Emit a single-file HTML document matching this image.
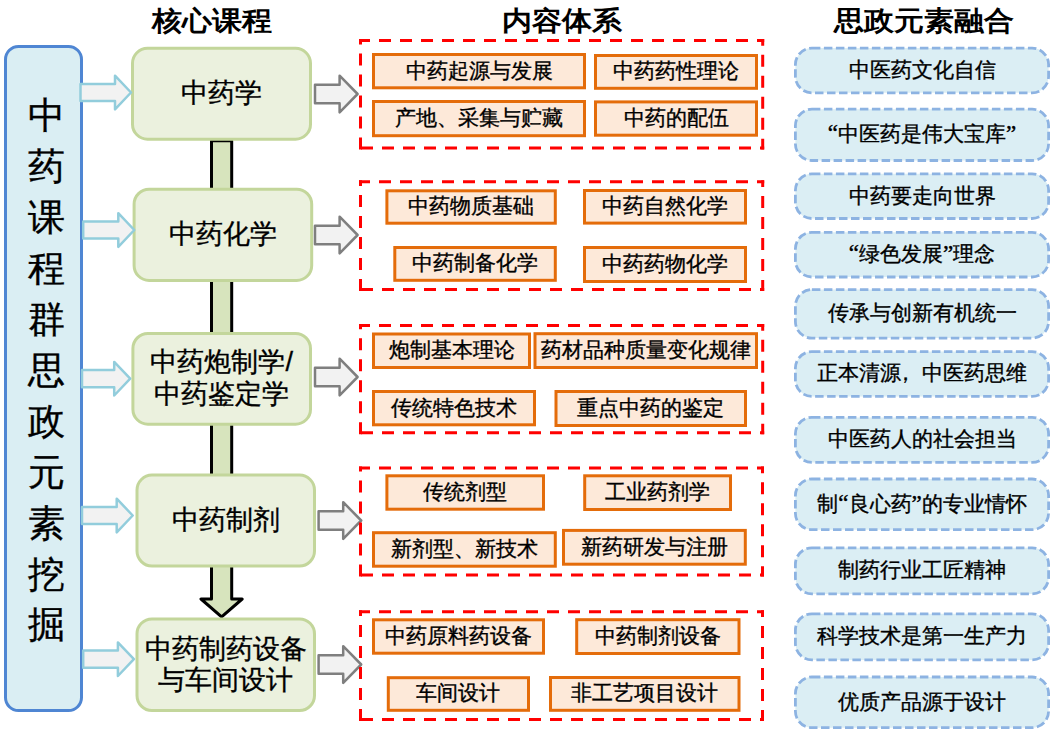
<!DOCTYPE html>
<html><head><meta charset="utf-8">
<style>
html,body{margin:0;padding:0;background:#fff;}
body{width:1056px;height:734px;position:relative;overflow:hidden;font-family:"Liberation Sans", sans-serif;color:#000;}
svg{position:absolute;left:0;top:0;}
.t{position:absolute;-webkit-text-stroke:0.35px #000;display:flex;align-items:center;justify-content:center;text-align:center;white-space:nowrap;}
.h{-webkit-text-stroke:0;transform:scaleY(0.9);}
.q{font-family:"Liberation Serif",serif;font-size:23px;font-weight:normal;-webkit-text-stroke:0.4px #000;}
</style></head><body>
<svg width="1056" height="734" viewBox="0 0 1056 734">
<rect x="5.5" y="46.5" width="76" height="664" rx="13" ry="13" fill="#DAEEF3" stroke="#4F86D3" stroke-width="3"/>
<path d="M211.5,140.7 L231.7,140.7 L231.7,599 L242.2,599 L221.6,616.8 L201,599 L211.5,599 Z" fill="#D7E4BD" stroke="#000" stroke-width="3" stroke-linejoin="round"/>
<rect x="132.5" y="48.3" width="178.00" height="90.90" rx="15" ry="15" fill="#EBF1DE" stroke="#C3D69B" stroke-width="3"/>
<rect x="134.1" y="189.2" width="177.60" height="91.20" rx="15" ry="15" fill="#EBF1DE" stroke="#C3D69B" stroke-width="3"/>
<rect x="132.9" y="333.5" width="177.60" height="90.70" rx="15" ry="15" fill="#EBF1DE" stroke="#C3D69B" stroke-width="3"/>
<rect x="137.0" y="475.1" width="177.50" height="90.90" rx="15" ry="15" fill="#EBF1DE" stroke="#C3D69B" stroke-width="3"/>
<rect x="137.0" y="618.9" width="177.50" height="91.60" rx="15" ry="15" fill="#EBF1DE" stroke="#C3D69B" stroke-width="3"/>
<path d="M80.5,83.9 L115,83.9 L115,75.7 L131,92.5 L115,109.3 L115,101.1 L80.5,101.1 Z" fill="#F2F2F2" stroke="#92CDDC" stroke-width="2.5" stroke-linejoin="round"/>
<path d="M83.2,221.4 L118.30000000000001,221.4 L118.30000000000001,213.2 L134.3,230 L118.30000000000001,246.8 L118.30000000000001,238.6 L83.2,238.6 Z" fill="#F2F2F2" stroke="#92CDDC" stroke-width="2.5" stroke-linejoin="round"/>
<path d="M82,370.09999999999997 L114.19999999999999,370.09999999999997 L114.19999999999999,361.9 L130.2,378.7 L114.19999999999999,395.5 L114.19999999999999,387.3 L82,387.3 Z" fill="#F2F2F2" stroke="#92CDDC" stroke-width="2.5" stroke-linejoin="round"/>
<path d="M82,506.9 L116.69999999999999,506.9 L116.69999999999999,498.7 L132.7,515.5 L116.69999999999999,532.3 L116.69999999999999,524.1 L82,524.1 Z" fill="#F2F2F2" stroke="#92CDDC" stroke-width="2.5" stroke-linejoin="round"/>
<path d="M83.2,650.6 L117.9,650.6 L117.9,642.4000000000001 L133.9,659.2 L117.9,676.0 L117.9,667.8000000000001 L83.2,667.8000000000001 Z" fill="#F2F2F2" stroke="#92CDDC" stroke-width="2.5" stroke-linejoin="round"/>
<path d="M315,84.7 L339.6,84.7 L339.6,75.7 L357.6,94 L339.6,112.3 L339.6,103.3 L315,103.3 Z" fill="#F2F2F2" stroke="#7F7F7F" stroke-width="2.5" stroke-linejoin="round"/>
<path d="M315,225.7 L339.6,225.7 L339.6,216.7 L357.6,235 L339.6,253.3 L339.6,244.3 L315,244.3 Z" fill="#F2F2F2" stroke="#7F7F7F" stroke-width="2.5" stroke-linejoin="round"/>
<path d="M315,367.7 L339.6,367.7 L339.6,358.7 L357.6,377 L339.6,395.3 L339.6,386.3 L315,386.3 Z" fill="#F2F2F2" stroke="#7F7F7F" stroke-width="2.5" stroke-linejoin="round"/>
<path d="M318.6,511.2 L343.2,511.2 L343.2,502.2 L361.2,520.5 L343.2,538.8 L343.2,529.8 L318.6,529.8 Z" fill="#F2F2F2" stroke="#7F7F7F" stroke-width="2.5" stroke-linejoin="round"/>
<path d="M318.6,655.2 L343.2,655.2 L343.2,646.2 L361.2,664.5 L343.2,682.8 L343.2,673.8 L318.6,673.8 Z" fill="#F2F2F2" stroke="#7F7F7F" stroke-width="2.5" stroke-linejoin="round"/>
<path d="M359,40.5 L764.2,40.5" fill="none" stroke="#FF0000" stroke-width="3" stroke-dasharray="12 9" stroke-linecap="butt" stroke-dashoffset="1"/>
<path d="M762.7,39 L762.7,149.6" fill="none" stroke="#FF0000" stroke-width="3" stroke-dasharray="12 9" stroke-linecap="butt" stroke-dashoffset="5.2"/>
<path d="M359,148.1 L764.2,148.1" fill="none" stroke="#FF0000" stroke-width="3" stroke-dasharray="12 9" stroke-linecap="butt" stroke-dashoffset="-2"/>
<path d="M360.5,149.6 L360.5,39" fill="none" stroke="#FF0000" stroke-width="3" stroke-dasharray="12 9" stroke-linecap="butt"/>
<path d="M359,181.8 L764.2,181.8" fill="none" stroke="#FF0000" stroke-width="3" stroke-dasharray="12 9" stroke-linecap="butt" stroke-dashoffset="1"/>
<path d="M762.7,180.3 L762.7,291" fill="none" stroke="#FF0000" stroke-width="3" stroke-dasharray="12 9" stroke-linecap="butt" stroke-dashoffset="5.2"/>
<path d="M359,289.5 L764.2,289.5" fill="none" stroke="#FF0000" stroke-width="3" stroke-dasharray="12 9" stroke-linecap="butt" stroke-dashoffset="-2"/>
<path d="M360.5,291 L360.5,180.3" fill="none" stroke="#FF0000" stroke-width="3" stroke-dasharray="12 9" stroke-linecap="butt"/>
<path d="M359,325.5 L764.2,325.5" fill="none" stroke="#FF0000" stroke-width="3" stroke-dasharray="12 9" stroke-linecap="butt" stroke-dashoffset="1"/>
<path d="M762.7,324 L762.7,434.3" fill="none" stroke="#FF0000" stroke-width="3" stroke-dasharray="12 9" stroke-linecap="butt" stroke-dashoffset="5.2"/>
<path d="M359,432.8 L764.2,432.8" fill="none" stroke="#FF0000" stroke-width="3" stroke-dasharray="12 9" stroke-linecap="butt" stroke-dashoffset="-2"/>
<path d="M360.5,434.3 L360.5,324" fill="none" stroke="#FF0000" stroke-width="3" stroke-dasharray="12 9" stroke-linecap="butt"/>
<path d="M359,468.0 L764,468.0" fill="none" stroke="#FF0000" stroke-width="3" stroke-dasharray="12 9" stroke-linecap="butt" stroke-dashoffset="1"/>
<path d="M762.5,466.5 L762.5,576.5" fill="none" stroke="#FF0000" stroke-width="3" stroke-dasharray="12 9" stroke-linecap="butt" stroke-dashoffset="5.2"/>
<path d="M359,575.0 L764,575.0" fill="none" stroke="#FF0000" stroke-width="3" stroke-dasharray="12 9" stroke-linecap="butt" stroke-dashoffset="-2"/>
<path d="M360.5,576.5 L360.5,466.5" fill="none" stroke="#FF0000" stroke-width="3" stroke-dasharray="12 9" stroke-linecap="butt"/>
<path d="M359,611.8 L764,611.8" fill="none" stroke="#FF0000" stroke-width="3" stroke-dasharray="12 9" stroke-linecap="butt" stroke-dashoffset="1"/>
<path d="M762.5,610.3 L762.5,721" fill="none" stroke="#FF0000" stroke-width="3" stroke-dasharray="12 9" stroke-linecap="butt" stroke-dashoffset="5.2"/>
<path d="M359,719.5 L764,719.5" fill="none" stroke="#FF0000" stroke-width="3" stroke-dasharray="12 9" stroke-linecap="butt" stroke-dashoffset="-2"/>
<path d="M360.5,721 L360.5,610.3" fill="none" stroke="#FF0000" stroke-width="3" stroke-dasharray="12 9" stroke-linecap="butt"/>
<rect x="373.5" y="54.5" width="211.00" height="33.30" fill="#FDE9D9" stroke="#E46C0A" stroke-width="3"/>
<rect x="595.5" y="55.5" width="161.00" height="32.80" fill="#FDE9D9" stroke="#E46C0A" stroke-width="3"/>
<rect x="373.5" y="101.5" width="211.00" height="34.20" fill="#FDE9D9" stroke="#E46C0A" stroke-width="3"/>
<rect x="595.5" y="101.9" width="161.00" height="33.30" fill="#FDE9D9" stroke="#E46C0A" stroke-width="3"/>
<rect x="386.9" y="190.8" width="168.40" height="32.40" fill="#FDE9D9" stroke="#E46C0A" stroke-width="3"/>
<rect x="584.5" y="190.5" width="161.00" height="32.60" fill="#FDE9D9" stroke="#E46C0A" stroke-width="3"/>
<rect x="394.8" y="247.5" width="160.50" height="32.80" fill="#FDE9D9" stroke="#E46C0A" stroke-width="3"/>
<rect x="584.5" y="247.5" width="161.00" height="34.00" fill="#FDE9D9" stroke="#E46C0A" stroke-width="3"/>
<rect x="373.5" y="334.0" width="156.00" height="33.50" fill="#FDE9D9" stroke="#E46C0A" stroke-width="3"/>
<rect x="535.0" y="333.7" width="221.50" height="33.80" fill="#FDE9D9" stroke="#E46C0A" stroke-width="3"/>
<rect x="373.5" y="391.5" width="161.00" height="33.30" fill="#FDE9D9" stroke="#E46C0A" stroke-width="3"/>
<rect x="556.0" y="391.5" width="189.50" height="34.00" fill="#FDE9D9" stroke="#E46C0A" stroke-width="3"/>
<rect x="386.9" y="475.8" width="156.60" height="33.40" fill="#FDE9D9" stroke="#E46C0A" stroke-width="3"/>
<rect x="584.7" y="475.8" width="145.80" height="33.70" fill="#FDE9D9" stroke="#E46C0A" stroke-width="3"/>
<rect x="373.5" y="532.7" width="181.80" height="33.50" fill="#FDE9D9" stroke="#E46C0A" stroke-width="3"/>
<rect x="563.5" y="530.4" width="181.80" height="33.80" fill="#FDE9D9" stroke="#E46C0A" stroke-width="3"/>
<rect x="373.5" y="619.8" width="170.00" height="33.40" fill="#FDE9D9" stroke="#E46C0A" stroke-width="3"/>
<rect x="576.7" y="619.7" width="162.30" height="33.80" fill="#FDE9D9" stroke="#E46C0A" stroke-width="3"/>
<rect x="388.3" y="677.7" width="140.20" height="32.60" fill="#FDE9D9" stroke="#E46C0A" stroke-width="3"/>
<rect x="550.5" y="677.5" width="188.50" height="32.80" fill="#FDE9D9" stroke="#E46C0A" stroke-width="3"/>
<rect x="795.4" y="48.1" width="253.20" height="44.70" rx="16.5" ry="16.5" fill="#DBEEF4" stroke="#8DB3E2" stroke-width="2.8" stroke-dasharray="8.5 3.5"/>
<rect x="795.4" y="109.2" width="253.20" height="51.30" rx="16.5" ry="16.5" fill="#DBEEF4" stroke="#8DB3E2" stroke-width="2.8" stroke-dasharray="8.5 3.5"/>
<rect x="795.4" y="173.8" width="253.20" height="44.70" rx="16.5" ry="16.5" fill="#DBEEF4" stroke="#8DB3E2" stroke-width="2.8" stroke-dasharray="8.5 3.5"/>
<rect x="795.4" y="232.3" width="253.20" height="44.70" rx="16.5" ry="16.5" fill="#DBEEF4" stroke="#8DB3E2" stroke-width="2.8" stroke-dasharray="8.5 3.5"/>
<rect x="795.4" y="289.59999999999997" width="253.20" height="48.50" rx="16.5" ry="16.5" fill="#DBEEF4" stroke="#8DB3E2" stroke-width="2.8" stroke-dasharray="8.5 3.5"/>
<rect x="795.4" y="351.59999999999997" width="253.20" height="44.80" rx="16.5" ry="16.5" fill="#DBEEF4" stroke="#8DB3E2" stroke-width="2.8" stroke-dasharray="8.5 3.5"/>
<rect x="795.4" y="417.4" width="253.20" height="45.00" rx="16.5" ry="16.5" fill="#DBEEF4" stroke="#8DB3E2" stroke-width="2.8" stroke-dasharray="8.5 3.5"/>
<rect x="795.4" y="479.0" width="253.20" height="50.70" rx="16.5" ry="16.5" fill="#DBEEF4" stroke="#8DB3E2" stroke-width="2.8" stroke-dasharray="8.5 3.5"/>
<rect x="795.4" y="547.8" width="253.20" height="46.10" rx="16.5" ry="16.5" fill="#DBEEF4" stroke="#8DB3E2" stroke-width="2.8" stroke-dasharray="8.5 3.5"/>
<rect x="795.4" y="613.8" width="253.20" height="46.10" rx="16.5" ry="16.5" fill="#DBEEF4" stroke="#8DB3E2" stroke-width="2.8" stroke-dasharray="8.5 3.5"/>
<rect x="795.4" y="677.0" width="253.20" height="50.70" rx="16.5" ry="16.5" fill="#DBEEF4" stroke="#8DB3E2" stroke-width="2.8" stroke-dasharray="8.5 3.5"/>
</svg>
<div class="t h" style="left:142.3px;top:0.0px;width:138.8px;height:42.0px;font-size:30px;font-weight:bold;line-height:1;">核心课程</div>
<div class="t h" style="left:493.7px;top:0.0px;width:137.3px;height:42.0px;font-size:30px;font-weight:bold;line-height:1;">内容体系</div>
<div class="t h" style="left:825.2px;top:0.0px;width:196.8px;height:42.0px;font-size:30px;font-weight:bold;line-height:1;">思政元素融合</div>
<div class="t" style="left:21.5px;top:90.9px;width:50.0px;height:50.0px;font-size:37px;font-weight:normal;line-height:1;">中</div>
<div class="t" style="left:21.5px;top:141.8px;width:50.0px;height:50.0px;font-size:37px;font-weight:normal;line-height:1;">药</div>
<div class="t" style="left:21.5px;top:192.7px;width:50.0px;height:50.0px;font-size:37px;font-weight:normal;line-height:1;">课</div>
<div class="t" style="left:21.5px;top:243.6px;width:50.0px;height:50.0px;font-size:37px;font-weight:normal;line-height:1;">程</div>
<div class="t" style="left:21.5px;top:294.5px;width:50.0px;height:50.0px;font-size:37px;font-weight:normal;line-height:1;">群</div>
<div class="t" style="left:21.5px;top:345.4px;width:50.0px;height:50.0px;font-size:37px;font-weight:normal;line-height:1;">思</div>
<div class="t" style="left:21.5px;top:396.3px;width:50.0px;height:50.0px;font-size:37px;font-weight:normal;line-height:1;">政</div>
<div class="t" style="left:21.5px;top:447.2px;width:50.0px;height:50.0px;font-size:37px;font-weight:normal;line-height:1;">元</div>
<div class="t" style="left:21.5px;top:498.1px;width:50.0px;height:50.0px;font-size:37px;font-weight:normal;line-height:1;">素</div>
<div class="t" style="left:21.5px;top:549.0px;width:50.0px;height:50.0px;font-size:37px;font-weight:normal;line-height:1;">挖</div>
<div class="t" style="left:21.5px;top:599.9px;width:50.0px;height:50.0px;font-size:37px;font-weight:normal;line-height:1;">掘</div>
<div class="t" style="left:131.0px;top:46.8px;width:181.0px;height:93.9px;font-size:27px;font-weight:normal;line-height:1;">中药学</div>
<div class="t" style="left:132.6px;top:187.7px;width:180.6px;height:94.2px;font-size:27px;font-weight:normal;line-height:1;">中药化学</div>
<div class="t" style="left:131.4px;top:332.0px;width:180.6px;height:93.7px;font-size:27px;font-weight:normal;line-height:31.5px;">中药炮制学/<br>中药鉴定学</div>
<div class="t" style="left:135.5px;top:473.6px;width:180.5px;height:93.9px;font-size:27px;font-weight:normal;line-height:1;">中药制剂</div>
<div class="t" style="left:135.5px;top:617.4px;width:180.5px;height:94.6px;font-size:27px;font-weight:normal;line-height:31px;">中药制药设备<br>与车间设计</div>
<div class="t" style="left:372.0px;top:52.0px;width:214.0px;height:36.3px;font-size:21px;font-weight:normal;line-height:1;">中药起源与发展</div>
<div class="t" style="left:594.0px;top:53.0px;width:164.0px;height:35.8px;font-size:21px;font-weight:normal;line-height:1;">中药药性理论</div>
<div class="t" style="left:372.0px;top:99.0px;width:214.0px;height:37.2px;font-size:21px;font-weight:normal;line-height:1;">产地、采集与贮藏</div>
<div class="t" style="left:594.0px;top:99.4px;width:164.0px;height:36.3px;font-size:21px;font-weight:normal;line-height:1;">中药的配伍</div>
<div class="t" style="left:385.4px;top:188.3px;width:171.4px;height:35.4px;font-size:21px;font-weight:normal;line-height:1;">中药物质基础</div>
<div class="t" style="left:583.0px;top:188.0px;width:164.0px;height:35.6px;font-size:21px;font-weight:normal;line-height:1;">中药自然化学</div>
<div class="t" style="left:393.3px;top:245.0px;width:163.5px;height:35.8px;font-size:21px;font-weight:normal;line-height:1;">中药制备化学</div>
<div class="t" style="left:583.0px;top:245.0px;width:164.0px;height:37.0px;font-size:21px;font-weight:normal;line-height:1;">中药药物化学</div>
<div class="t" style="left:372.0px;top:331.5px;width:159.0px;height:36.5px;font-size:21px;font-weight:normal;line-height:1;">炮制基本理论</div>
<div class="t" style="left:533.5px;top:331.2px;width:224.5px;height:36.8px;font-size:21px;font-weight:normal;line-height:1;">药材品种质量变化规律</div>
<div class="t" style="left:372.0px;top:389.0px;width:164.0px;height:36.3px;font-size:21px;font-weight:normal;line-height:1;">传统特色技术</div>
<div class="t" style="left:554.5px;top:389.0px;width:192.5px;height:37.0px;font-size:21px;font-weight:normal;line-height:1;">重点中药的鉴定</div>
<div class="t" style="left:385.4px;top:473.3px;width:159.6px;height:36.4px;font-size:21px;font-weight:normal;line-height:1;">传统剂型</div>
<div class="t" style="left:583.2px;top:473.3px;width:148.8px;height:36.7px;font-size:21px;font-weight:normal;line-height:1;">工业药剂学</div>
<div class="t" style="left:372.0px;top:530.2px;width:184.8px;height:36.5px;font-size:21px;font-weight:normal;line-height:1;">新剂型、新技术</div>
<div class="t" style="left:562.0px;top:527.9px;width:184.8px;height:36.8px;font-size:21px;font-weight:normal;line-height:1;">新药研发与注册</div>
<div class="t" style="left:372.0px;top:617.3px;width:173.0px;height:36.4px;font-size:21px;font-weight:normal;line-height:1;">中药原料药设备</div>
<div class="t" style="left:575.2px;top:617.2px;width:165.3px;height:36.8px;font-size:21px;font-weight:normal;line-height:1;">中药制剂设备</div>
<div class="t" style="left:386.8px;top:675.2px;width:143.2px;height:35.6px;font-size:21px;font-weight:normal;line-height:1;">车间设计</div>
<div class="t" style="left:549.0px;top:675.0px;width:191.5px;height:35.8px;font-size:21px;font-weight:normal;line-height:1;">非工艺项目设计</div>
<div class="t" style="left:794.0px;top:45.7px;width:256.0px;height:47.5px;font-size:21px;font-weight:normal;line-height:1;">中医药文化自信</div>
<div class="t" style="left:794.0px;top:106.8px;width:256.0px;height:54.1px;font-size:21px;font-weight:normal;line-height:1;"><span class="q">“</span>中医药是伟大宝库<span class="q">”</span></div>
<div class="t" style="left:794.0px;top:171.4px;width:256.0px;height:47.5px;font-size:21px;font-weight:normal;line-height:1;">中药要走向世界</div>
<div class="t" style="left:794.0px;top:229.9px;width:256.0px;height:47.5px;font-size:21px;font-weight:normal;line-height:1;"><span class="q">“</span>绿色发展<span class="q">”</span>理念</div>
<div class="t" style="left:794.0px;top:287.2px;width:256.0px;height:51.3px;font-size:21px;font-weight:normal;line-height:1;">传承与创新有机统一</div>
<div class="t" style="left:794.0px;top:349.2px;width:256.0px;height:47.6px;font-size:21px;font-weight:normal;line-height:1;">正本清源<span style="position:relative;left:-6px">，</span>中医药思维</div>
<div class="t" style="left:794.0px;top:415.0px;width:256.0px;height:47.8px;font-size:21px;font-weight:normal;line-height:1;">中医药人的社会担当</div>
<div class="t" style="left:794.0px;top:476.6px;width:256.0px;height:53.5px;font-size:21px;font-weight:normal;line-height:1;">制<span class="q">“</span>良心药<span class="q">”</span>的专业情怀</div>
<div class="t" style="left:794.0px;top:545.4px;width:256.0px;height:48.9px;font-size:21px;font-weight:normal;line-height:1;">制药行业工匠精神</div>
<div class="t" style="left:794.0px;top:611.4px;width:256.0px;height:48.9px;font-size:21px;font-weight:normal;line-height:1;">科学技术是第一生产力</div>
<div class="t" style="left:794.0px;top:674.6px;width:256.0px;height:53.5px;font-size:21px;font-weight:normal;line-height:1;">优质产品源于设计</div>
</body></html>
